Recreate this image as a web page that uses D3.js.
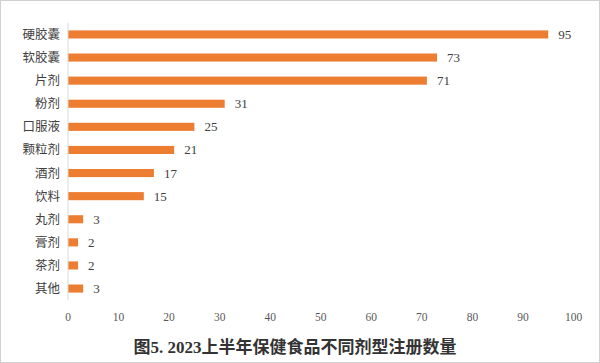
<!DOCTYPE html>
<html>
<head>
<meta charset="utf-8">
<script src="https://cdn.jsdelivr.net/npm/d3@7"></script>
<style>
  body { margin: 0; background: #fff; }
  svg { display: block; }
</style>
</head>
<body>
<svg width="600" height="363"></svg>
<script>
var categories = ["硬胶囊", "软胶囊", "片剂", "粉剂", "口服液", "颗粒剂", "酒剂", "饮料", "丸剂", "膏剂", "茶剂", "其他"];
var values = [95, 73, 71, 31, 25, 21, 17, 15, 3, 2, 2, 3];
var ticks = [0, 10, 20, 30, 40, 50, 60, 70, 80, 90, 100];
var title = "图5. 2023上半年保健食品不同剂型注册数量";

var svg = d3.select("svg"),
    width = +svg.attr("width"),
    height = +svg.attr("height");

var x = d3.scaleLinear().domain([0, 100]).range([68, 573.5]);
var y = d3.scaleBand().domain(categories).range([23, 300]).paddingInner(0.65).paddingOuter(0.32);

// outer frame
svg.append("rect")
    .attr("x", 0.5).attr("y", 0.5)
    .attr("width", width - 1).attr("height", height - 1)
    .attr("fill", "none").attr("stroke", "#d0d0d0");

svg.selectAll(".bar")
    .data(values)
    .enter()
    .append("rect")
    .attr("class", "bar")
    .attr("x", x(0))
    .attr("y", function (d, i) { return y(categories[i]); })
    .attr("width", function (d) { return x(d) - x(0); })
    .attr("height", y.bandwidth())
    .attr("fill", "#ED7D31");

svg.selectAll(".val")
    .data(values)
    .enter()
    .append("text")
    .attr("class", "val")
    .attr("x", function (d) { return x(d) + 10; })
    .attr("y", function (d, i) { return y(categories[i]) + y.bandwidth() / 2; })
    .attr("dy", "0.35em")
    .style("font-family", "'Liberation Serif', serif")
    .style("font-size", "13px")
    .attr("fill", "#404040")
    .text(function (d) { return d; });

// category axis
svg.append("line")
    .attr("x1", x(0)).attr("x2", x(0))
    .attr("y1", 23).attr("y2", 300)
    .attr("stroke", "#d9d9d9");

svg.selectAll(".cat")
    .data(categories)
    .enter()
    .append("text")
    .attr("class", "cat")
    .attr("x", 60)
    .attr("y", function (d) { return y(d) + y.bandwidth() / 2; })
    .attr("dy", "0.36em")
    .attr("text-anchor", "end")
    .style("font-family", "'Noto Sans CJK SC', sans-serif")
    .style("font-size", "12.5px")
    .attr("fill", "#404040")
    .text(function (d) { return d; });

// value axis labels
svg.selectAll(".tick")
    .data(ticks)
    .enter()
    .append("text")
    .attr("class", "tick")
    .attr("x", function (d) { return x(d); })
    .attr("y", 317)
    .attr("dy", "0.35em")
    .attr("text-anchor", "middle")
    .style("font-family", "'Liberation Serif', serif")
    .style("font-size", "11.5px")
    .attr("fill", "#595959")
    .text(function (d) { return d; });

svg.append("text")
    .attr("x", 295)
    .attr("y", 347)
    .attr("dy", "0.35em")
    .attr("text-anchor", "middle")
    .style("font-family", "'Liberation Serif', 'Noto Sans CJK SC', serif")
    .style("font-size", "17px")
    .style("font-weight", "bold")
    .attr("fill", "#333")
    .text(title);
</script>
</body>
</html>
